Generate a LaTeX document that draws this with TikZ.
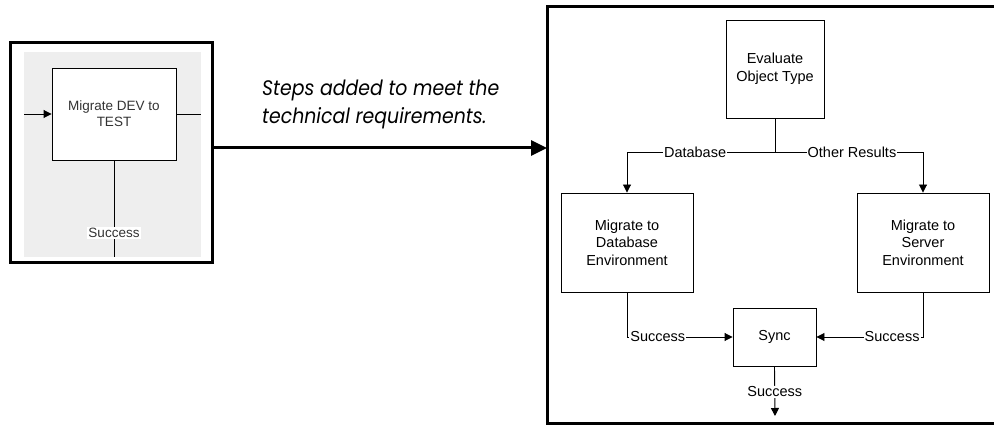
\documentclass[tikz,border=0pt]{standalone}
\usepackage{fontspec}
\setmainfont{Liberation Sans}
\newfontfamily\notefont[FakeStretch=0.9]{Poppins}
\usetikzlibrary{arrows.meta}
\definecolor{panelgray}{HTML}{EEEEEE}
\tikzset{
  stepbox/.style={draw, line width=0.9pt, fill=white, align=center, font=\fontsize{14.5}{17.5}\selectfont, inner sep=0pt},
  smallbox/.style={draw, line width=0.9pt, fill=white, align=center, font=\fontsize{13.5}{16}\selectfont\color{black!80}, inner sep=0pt},
  link/.style={line width=0.9pt},
  arr/.style={line width=0.9pt, -{Triangle[length=8pt,width=8pt]}},
  lbl/.style={fill=white, inner sep=1pt, font=\fontsize{14.5}{17}\selectfont},
  slbl/.style={fill=white, inner sep=1.5pt, font=\fontsize{13.5}{16}\selectfont\color{black!80}},
  frame/.style={line width=3pt},
}
\begin{document}
\begin{tikzpicture}[x=1pt, y=-1pt]
\useasboundingbox (0,0) rectangle (994,425);

% --- excerpt of the original flow ---
\fill[panelgray] (24,52) rectangle (201,257);
\node[smallbox, minimum width=124pt, minimum height=92pt] (dev) at (114,114) {Migrate DEV to\\TEST};
\coordinate (devin) at (24,114);
\coordinate (devout) at (201,114);
\coordinate (devdown) at (114,257);
\draw[arr] (devin) -- (dev.west);
\draw[link] (dev.east) -- (devout);
\draw[link] (dev.south) -- node[slbl, pos=0.75] {Success} (devdown);
\node[draw, frame, minimum width=202pt, minimum height=219pt, inner sep=0pt] (lf) at (111,152.5) {};

% --- expansion arrow and note ---
\coordinate (arrowy) at (0,148);
\coordinate (rfin) at (547,148);
\draw[line width=3pt, -{Triangle[length=16pt,width=15pt]}] (lf.east |- arrowy) -- (rfin);
\node[anchor=west, align=left, inner sep=0pt, font=\notefont\itshape\fontsize{21}{28}\selectfont] (note) at (262,104)
  {Steps added to meet the\\technical requirements.};

% --- expanded steps ---
\draw[frame] (1000,7) -- (547,7) -- (547,423) -- (1000,423);

\node[stepbox, minimum width=98pt, minimum height=98pt] (eval) at (775,69) {Evaluate\\Object Type};
\node[stepbox, minimum width=132pt, minimum height=99pt] (mdb) at (627,242.5) {Migrate to\\Database\\Environment};
\node[stepbox, minimum width=132pt, minimum height=99pt] (msrv) at (923,242.5) {Migrate to\\Server\\Environment};
\node[stepbox, minimum width=83pt, minimum height=58pt] (sync) at (774.5,337) {Sync};

\coordinate (split) at (775,152);
\coordinate (done) at (775,416);

\draw[link] (eval.south) -- (split);
\draw[arr] (split) -| node[lbl, pos=0.27] {Database} (mdb.north);
\draw[arr] (split) -| node[lbl, pos=0.26] {Other Results} (msrv.north);
\draw[arr] (mdb.south) |- node[lbl, pos=0.646] {Success} (sync.west);
\draw[arr] (msrv.south) |- node[lbl, pos=0.645] {Success} (sync.east);
\draw[arr] (sync.south) -- node[lbl, pos=0.51] {Success} (done);
\end{tikzpicture}
\end{document}
